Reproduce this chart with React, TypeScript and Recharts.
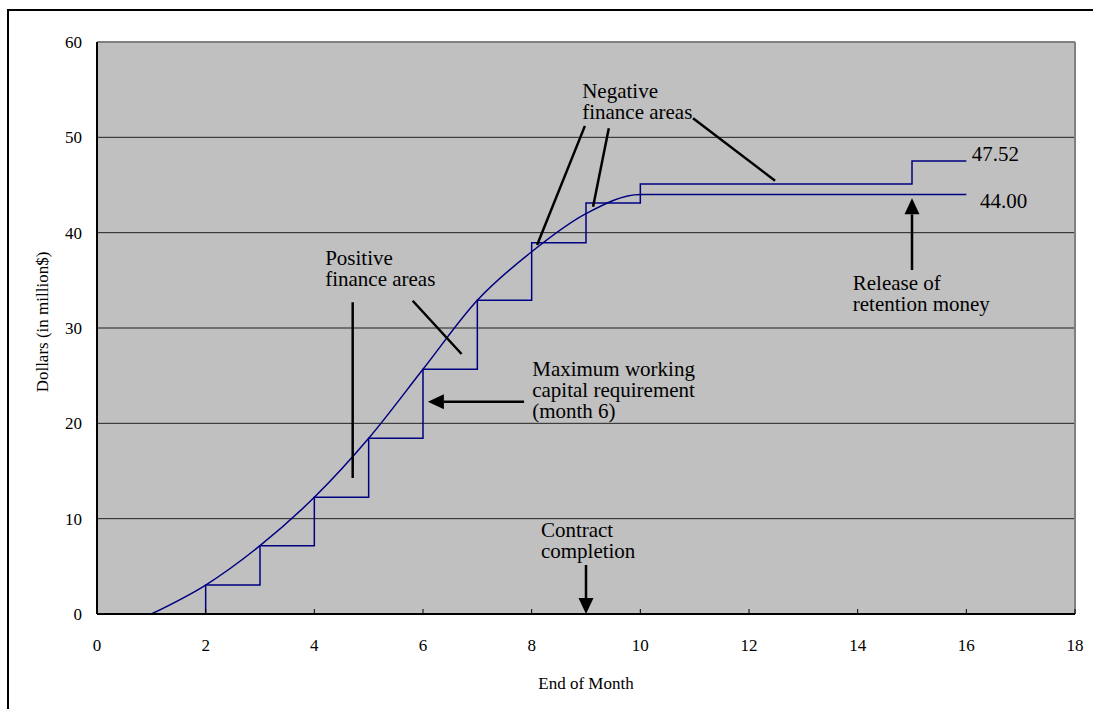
import React from 'react'
import {
  LineChart, Line, XAxis, YAxis, CartesianGrid,
  ReferenceLine, ReferenceDot,
} from 'recharts'

// ─── Data ────────────────────────────────────────────────────────

// monthly payments received (stepped line)
const stepMonths = [2, 2, 3, 4, 5, 6, 7, 8, 9, 10, 15, 16]
const stepValues = [0, 3.04, 7.17, 12.24, 18.43, 25.67, 32.9, 38.95, 43.1, 45.1, 47.52, 47.52]

// cumulative cost (S-curve)
const curveMonths = [1, 2, 3, 4, 5, 6, 7, 8, 9, 10, 16]
const curveValues = [0, 3.04, 7.17, 12.24, 18.43, 25.67, 32.9, 38.0, 42.0, 44.0, 44.0]

const monthTicks = [0, 2, 4, 6, 8, 10, 12, 14, 16, 18]
const dollarTicks = [0, 10, 20, 30, 40, 50, 60]

// annotations, in chart units (month, $M)
const notes = [
  { at: [8.93, 54.86], lines: ['Negative', 'finance areas'] },
  { at: [4.2, 37.34], lines: ['Positive', 'finance areas'] },
  { at: [8.01, 25.7], lines: ['Maximum working', 'capital requirement', '(month 6)'] },
  { at: [8.17, 8.81], lines: ['Contract', 'completion'] },
  { at: [13.91, 34.75], lines: ['Release of', 'retention money'] },
  { at: [16.1, 48.32], lines: ['47.52'] },
  { at: [16.25, 43.32], lines: ['44.00'] },
]

const pointers = [
  { from: [8.98, 51.2], to: [8.1, 38.7], arrow: false },
  { from: [9.42, 50.95], to: [9.13, 42.72], arrow: false },
  { from: [10.97, 52.0], to: [12.48, 45.45], arrow: false },
  { from: [4.706, 32.7], to: [4.706, 14.27], arrow: false },
  { from: [5.81, 32.86], to: [6.71, 27.27], arrow: false },
  { from: [7.86, 22.27], to: [6.09, 22.27], arrow: true },
  { from: [9.0, 5.14], to: [9.0, 0], arrow: true },
  { from: [15.0, 36.08], to: [15.0, 43.6], arrow: true },
]

const stepData = stepMonths.map((m, i) => ({ month: m, value: stepValues[i] }))
const curveData = curveMonths.map((m, i) => ({ month: m, value: curveValues[i] }))

const FONT = '"Liberation Serif", "Times New Roman", serif'
const NAVY = '#000080'

// ─── Shapes ──────────────────────────────────────────────────────

function NoteText({ cx, cy, lines }: any) {
  return (
    <text x={cx} y={cy} fontFamily={FONT} fontSize={21} fill="#000">
      {lines.map((l: string, i: number) => (
        <tspan key={i} x={cx} dy={i === 0 ? '0.35em' : 21}>{l}</tspan>
      ))}
    </text>
  )
}

function Pointer({ x1, y1, x2, y2, arrow }: any) {
  if (x1 == null || y1 == null) return null
  const dx = x2 - x1
  const dy = y2 - y1
  const len = Math.sqrt(dx * dx + dy * dy) || 1
  const ux = dx / len
  const uy = dy / len
  const head = 16
  const half = 7.5
  const ex = arrow ? x2 - ux * head : x2
  const ey = arrow ? y2 - uy * head : y2
  return (
    <g>
      <line x1={x1} y1={y1} x2={ex} y2={ey} stroke="#000" strokeWidth={2.5} />
      {arrow && (
        <polygon
          points={`${x2},${y2} ${ex - uy * half},${ey + ux * half} ${ex + uy * half},${ey - ux * half}`}
          fill="#000"
        />
      )}
    </g>
  )
}

// ─── Main Component ──────────────────────────────────────────────

export default function App() {
  return (
    <div style={{ position: 'absolute', left: 0, top: 0, width: 1093, height: 709, overflow: 'hidden', background: '#fff' }}>
      <div style={{ position: 'absolute', left: 7, top: 9, width: 1200, height: 800, border: '2px solid #000' }} />
      <div style={{ position: 'absolute', left: 0, top: 0 }}>
        <LineChart width={1093} height={709} margin={{ top: 42, right: 18, left: 37, bottom: 65 }}>
          <CartesianGrid vertical={false} stroke="#222" fill="#C0C0C0" fillOpacity={1} />
          <XAxis
            dataKey="month"
            type="number"
            domain={[0, 18]}
            ticks={monthTicks}
            height={30}
            allowDataOverflow
            axisLine={{ stroke: '#000', strokeWidth: 2 }}
            tickLine={{ stroke: '#000', strokeWidth: 1 }}
            tickSize={-5}
            tickMargin={30}
            tick={{ fill: '#000', fontSize: 17, fontFamily: FONT }}
            label={{
              content: ({ viewBox }: any) => (
                <text
                  x={viewBox.x + viewBox.width / 2}
                  y={viewBox.y + 69}
                  textAnchor="middle"
                  dominantBaseline="central"
                  fontFamily={FONT}
                  fontSize={17}
                  fill="#000"
                >
                  End of Month
                </text>
              ),
            }}
          />
          <YAxis
            type="number"
            domain={[0, 60]}
            ticks={dollarTicks}
            width={60}
            allowDataOverflow
            axisLine={{ stroke: '#000', strokeWidth: 2 }}
            tickLine={false}
            tickSize={-5}
            tickMargin={20}
            tick={{ fill: '#000', fontSize: 17, fontFamily: FONT }}
            label={{
              content: ({ viewBox }: any) => {
                const x = viewBox.x + 5
                const y = viewBox.y + viewBox.height / 2 - 6
                return (
                  <text
                    x={x}
                    y={y}
                    transform={`rotate(-90, ${x}, ${y})`}
                    textAnchor="middle"
                    dominantBaseline="central"
                    fontFamily={FONT}
                    fontSize={17}
                    fill="#000"
                  >
                    Dollars (in million$)
                  </text>
                )
              },
            }}
          />
          <ReferenceLine y={60} stroke="#808080" strokeWidth={2} />
          <ReferenceLine x={18} stroke="#808080" strokeWidth={2} />

          <Line
            data={curveData}
            dataKey="value"
            type="monotone"
            stroke={NAVY}
            strokeWidth={1.5}
            dot={false}
            isAnimationActive={false}
          />
          <Line
            data={stepData}
            dataKey="value"
            type="stepAfter"
            stroke={NAVY}
            strokeWidth={1.5}
            dot={false}
            isAnimationActive={false}
          />

          {pointers.map((p, i) => (
            <ReferenceLine
              key={`p${i}`}
              segment={[{ x: p.from[0], y: p.from[1] }, { x: p.to[0], y: p.to[1] }]}
              shape={(props: any) => <Pointer {...props} arrow={p.arrow} />}
            />
          ))}
          {notes.map((n, i) => (
            <ReferenceDot
              key={`n${i}`}
              x={n.at[0]}
              y={n.at[1]}
              r={0}
              shape={(props: any) => <NoteText cx={props.cx} cy={props.cy} lines={n.lines} />}
            />
          ))}
        </LineChart>
      </div>
    </div>
  )
}
